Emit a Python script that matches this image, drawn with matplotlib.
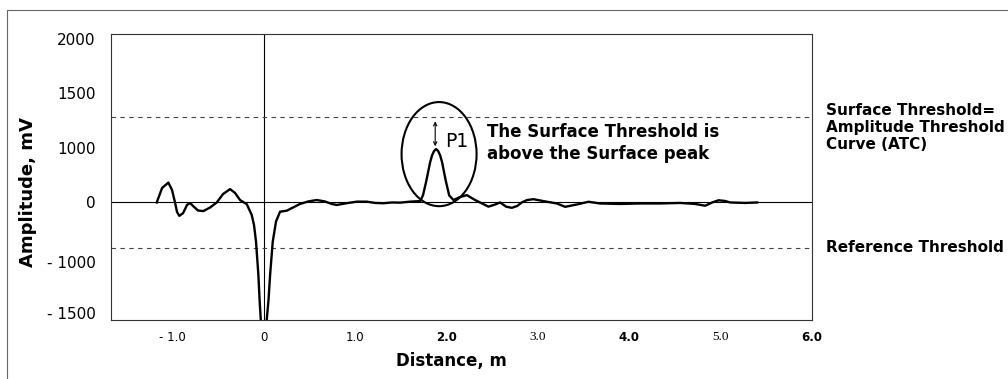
import numpy as np
import matplotlib.pyplot as plt
from matplotlib.patches import Ellipse, Rectangle

# trace (distance in m, amplitude in mV)
distance = [-1.175, -1.117, -1.048, -1.008, -0.975, -0.953, -0.928, -0.887, -0.843, -0.810,
            -0.767, -0.723, -0.665, -0.591, -0.518, -0.449, -0.372, -0.318, -0.263, -0.189,
            -0.135, -0.110, -0.088, -0.062, -0.049, -0.035, -0.005, 0.028, 0.049, 0.066,
            0.095, 0.131, 0.175, 0.249, 0.318, 0.394, 0.482, 0.577, 0.668, 0.741,
            0.796, 0.887, 1.015, 1.125, 1.216, 1.307, 1.402, 1.490, 1.599, 1.709,
            1.740, 1.774, 1.796, 1.818, 1.840, 1.862, 1.884, 1.906, 1.928, 1.950,
            1.971, 1.993, 2.027, 2.074, 2.147, 2.220, 2.311, 2.385, 2.457, 2.530,
            2.585, 2.650, 2.713, 2.771, 2.822, 2.880, 2.950, 3.059, 3.206, 3.297,
            3.425, 3.552, 3.680, 3.899, 4.118, 4.337, 4.556, 4.721, 4.830, 4.907,
            4.976, 5.049, 5.104, 5.268, 5.400]
amplitude = [0, 265, 365, 230, 0, -160, -225, -180, -40, -10,
             -75, -135, -145, -85, 0, 155, 245, 175, 45, -30,
             -210, -380, -660, -1130, -1370, -1580, -1660, -1580, -1370, -1130,
             -660, -320, -155, -138, -84, -25, 18, 45, 18, -25,
             -42, -17, 15, 15, -8, -13, 0, -3, 15, 25,
             130, 375, 555, 735, 865, 945, 980, 945, 865, 735,
             555, 375, 130, 45, 100, 135, 45, -15, -70, -35,
             0, -70, -90, -60, 0, 45, 60, 25, -17, -73,
             -34, 13, -17, -25, -17, -17, -8, -25, -55, 0,
             40, 27, 0, -8, 0]

surface_threshold = 1280
reference_threshold = -760

x_ticks = [-1, 0, 1, 2, 3, 4, 5, 6]
x_labels = ["- 1.0", "0", "1.0", "2.0", "3.0", "4.0", "5.0", "6.0"]
y_ticks = [-1500, -1000, 0, 1000, 1500, 2000]
y_labels = ["- 1500", "- 1000", "0", "1000", "1500", "2000"]

# the printed y axis is not evenly spaced, so map it piecewise
knot_mv = [-3000, -1500, -1000, 0, 1000, 1500, 2000, 4000]
knot_h = [-87, 66, 117, 176.5, 231, 286, 340, 556]


def fwd(v):
    return np.interp(v, knot_mv, knot_h)


def inv(h):
    return np.interp(h, knot_h, knot_mv)


fig = plt.figure(figsize=(10.08, 3.79), dpi=100)
ax = fig.add_axes([111 / 1008, 59 / 379, 701 / 1008, 286 / 379])
ax.set_yscale('function', functions=(fwd, inv))

ax.axhline(0, color='black', lw=0.8, zorder=1)
ax.axvline(0, color='black', lw=0.8, zorder=1)
ax.axhline(surface_threshold, color='#444444', lw=0.8, dashes=(4, 4), zorder=1)
ax.axhline(reference_threshold, color='#444444', lw=0.8, dashes=(4, 4), zorder=1)

ax.plot(distance, amplitude, color='black', lw=1.7, solid_joinstyle='round', zorder=3)

ax.set_xlim(-1.676, 6.0)
ax.set_ylim(-1569, 2046)
ax.set_xticks(x_ticks, labels=x_labels)
ax.set_yticks(y_ticks, labels=y_labels)
ax.minorticks_off()
ax.tick_params(length=0)
ax.tick_params(axis='y', labelsize=11, pad=11)
ax.tick_params(axis='x', labelsize=8.5, pad=8)
for lab in ax.get_xticklabels():
    if lab.get_text() in ("3.0", "5.0"):
        lab.set_fontfamily("Liberation Serif")
        lab.set_fontsize(9.5)
    elif lab.get_text() in ("2.0", "4.0", "6.0"):
        lab.set_fontweight('bold')

for s in ax.spines.values():
    s.set_linewidth(0.8)
    s.set_color('#333333')

ax.set_xlabel("Distance, m", fontsize=12, fontweight='bold')
ax.xaxis.set_label_coords(0.486, -0.112)
ax.set_ylabel("Amplitude, mV", fontsize=13, fontweight='bold')
ax.yaxis.set_label_coords(-0.1056, 0.449)

# peak marker: ellipse + arrow up to the surface threshold
peak_i = int(np.argmax(amplitude))
ax.add_patch(Ellipse((0.468, 0.580), 0.107, 0.364, transform=ax.transAxes,
                     fill=False, ec='black', lw=1.5, zorder=4))
ax.annotate('', xy=(distance[peak_i] - 0.01, surface_threshold),
            xytext=(distance[peak_i] - 0.01, amplitude[peak_i]),
            arrowprops=dict(arrowstyle='<->', lw=0.8, color='black',
                            shrinkA=2, shrinkB=3, mutation_scale=6))

fig.text(457 / 1008, 1 - 142 / 379, "P1", fontsize=13.5, ha='center', va='center')
fig.text(487 / 1008, 1 - 123 / 379, "The Surface Threshold is\nabove the Surface peak",
         fontsize=12, fontweight='bold', va='top', linespacing=1.3)
fig.text(826 / 1008, 1 - 103 / 379, "Surface Threshold=\nAmplitude Threshold\nCurve (ATC)",
         fontsize=11, fontweight='bold', va='top', linespacing=1.15)
ax.text(1.02, reference_threshold, "Reference Threshold", transform=ax.get_yaxis_transform(),
        fontsize=11, fontweight='bold', va='center')

fig.add_artist(Rectangle((7 / 1008, -0.05), 1.1, 1.05 - 10 / 379,
                         transform=fig.transFigure, fill=False, lw=0.8, ec='#666666'))

fig.savefig('out.png', dpi=100)
